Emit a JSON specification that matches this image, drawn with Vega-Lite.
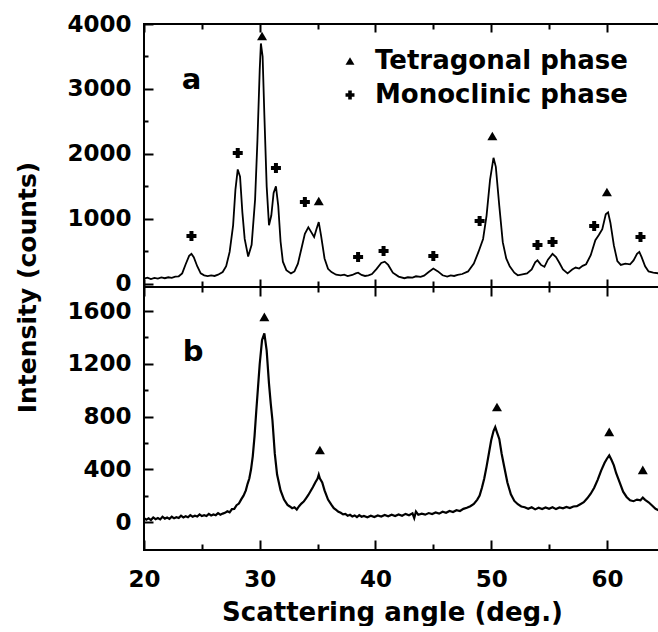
{
  "$schema": "https://vega.github.io/schema/vega-lite/v6.json",
  "background": "white",
  "padding": {"left": 13, "top": 12, "right": 0, "bottom": 0},
  "bounds": "flush",
  "spacing": 0,
  "config": {
    "view": {"stroke": "black", "strokeWidth": 2},
    "axis": {
      "labelFont": "DejaVu Sans", "labelFontWeight": "bold", "labelFontSize": 23, "labelColor": "black",
      "titleFont": "DejaVu Sans", "titleFontWeight": "bold", "titleFontSize": 25, "titleColor": "black",
      "domain": false, "grid": false, "tickColor": "black", "tickWidth": 2, "labelFlush": false, "format": "d"
    },
    "concat": {"spacing": 0}
  },
  "datasets": {
    "a": [
      {"angle": 20.0, "counts": 80}, {"angle": 20.3, "counts": 95}, {"angle": 20.6, "counts": 72}, {"angle": 20.9, "counts": 90},
      {"angle": 21.2, "counts": 78}, {"angle": 21.5, "counts": 98}, {"angle": 21.8, "counts": 85}, {"angle": 22.1, "counts": 100},
      {"angle": 22.4, "counts": 92}, {"angle": 22.7, "counts": 110}, {"angle": 23.0, "counts": 115}, {"angle": 23.3, "counts": 160},
      {"angle": 23.6, "counts": 300}, {"angle": 23.9, "counts": 430}, {"angle": 24.1, "counts": 460}, {"angle": 24.3, "counts": 410},
      {"angle": 24.6, "counts": 270}, {"angle": 24.9, "counts": 160}, {"angle": 25.2, "counts": 130}, {"angle": 25.5, "counts": 118},
      {"angle": 25.8, "counts": 128}, {"angle": 26.1, "counts": 120}, {"angle": 26.4, "counts": 140}, {"angle": 26.8, "counts": 180},
      {"angle": 27.1, "counts": 270}, {"angle": 27.4, "counts": 490}, {"angle": 27.7, "counts": 900}, {"angle": 27.9, "counts": 1450},
      {"angle": 28.1, "counts": 1760}, {"angle": 28.3, "counts": 1650}, {"angle": 28.5, "counts": 1100}, {"angle": 28.7, "counts": 690},
      {"angle": 29.0, "counts": 420}, {"angle": 29.3, "counts": 600}, {"angle": 29.6, "counts": 1300}, {"angle": 29.8, "counts": 2200},
      {"angle": 30.0, "counts": 3300}, {"angle": 30.1, "counts": 3700}, {"angle": 30.25, "counts": 3500}, {"angle": 30.4, "counts": 2600},
      {"angle": 30.6, "counts": 1500}, {"angle": 30.8, "counts": 900}, {"angle": 31.0, "counts": 1050}, {"angle": 31.2, "counts": 1400},
      {"angle": 31.4, "counts": 1500}, {"angle": 31.6, "counts": 1200}, {"angle": 31.8, "counts": 650}, {"angle": 32.0, "counts": 340},
      {"angle": 32.3, "counts": 210}, {"angle": 32.7, "counts": 160}, {"angle": 33.0, "counts": 190}, {"angle": 33.3, "counts": 310},
      {"angle": 33.6, "counts": 540}, {"angle": 33.9, "counts": 770}, {"angle": 34.2, "counts": 870}, {"angle": 34.4, "counts": 810},
      {"angle": 34.7, "counts": 720}, {"angle": 34.9, "counts": 840}, {"angle": 35.1, "counts": 950}, {"angle": 35.3, "counts": 740},
      {"angle": 35.6, "counts": 390}, {"angle": 35.9, "counts": 230}, {"angle": 36.2, "counts": 180}, {"angle": 36.6, "counts": 140},
      {"angle": 37.0, "counts": 128}, {"angle": 37.3, "counts": 140}, {"angle": 37.6, "counts": 118}, {"angle": 38.0, "counts": 135},
      {"angle": 38.3, "counts": 160}, {"angle": 38.5, "counts": 170}, {"angle": 38.8, "counts": 135}, {"angle": 39.1, "counts": 120},
      {"angle": 39.4, "counts": 128}, {"angle": 39.7, "counts": 150}, {"angle": 40.1, "counts": 230}, {"angle": 40.5, "counts": 320},
      {"angle": 40.8, "counts": 340}, {"angle": 41.1, "counts": 290}, {"angle": 41.5, "counts": 170}, {"angle": 42.0, "counts": 110},
      {"angle": 42.5, "counts": 85}, {"angle": 42.8, "counts": 100}, {"angle": 43.2, "counts": 95}, {"angle": 43.5, "counts": 115},
      {"angle": 43.9, "counts": 105}, {"angle": 44.2, "counts": 125}, {"angle": 44.6, "counts": 180}, {"angle": 45.0, "counts": 235},
      {"angle": 45.4, "counts": 190}, {"angle": 45.8, "counts": 130}, {"angle": 46.2, "counts": 110}, {"angle": 46.5, "counts": 128},
      {"angle": 46.8, "counts": 120}, {"angle": 47.1, "counts": 135}, {"angle": 47.5, "counts": 150}, {"angle": 48.0, "counts": 190},
      {"angle": 48.5, "counts": 310}, {"angle": 48.9, "counts": 490}, {"angle": 49.3, "counts": 690}, {"angle": 49.6, "counts": 1050},
      {"angle": 49.9, "counts": 1600}, {"angle": 50.2, "counts": 1940}, {"angle": 50.4, "counts": 1800}, {"angle": 50.7, "counts": 1200},
      {"angle": 51.0, "counts": 640}, {"angle": 51.3, "counts": 390}, {"angle": 51.6, "counts": 270}, {"angle": 52.0, "counts": 170},
      {"angle": 52.3, "counts": 130}, {"angle": 52.7, "counts": 145}, {"angle": 53.1, "counts": 160}, {"angle": 53.5, "counts": 220},
      {"angle": 53.8, "counts": 330}, {"angle": 54.0, "counts": 360}, {"angle": 54.3, "counts": 290}, {"angle": 54.6, "counts": 260},
      {"angle": 54.9, "counts": 370}, {"angle": 55.3, "counts": 460}, {"angle": 55.6, "counts": 410}, {"angle": 55.9, "counts": 320},
      {"angle": 56.2, "counts": 220}, {"angle": 56.6, "counts": 160}, {"angle": 57.0, "counts": 220}, {"angle": 57.3, "counts": 250},
      {"angle": 57.6, "counts": 235}, {"angle": 57.9, "counts": 275}, {"angle": 58.2, "counts": 300}, {"angle": 58.6, "counts": 440},
      {"angle": 59.0, "counts": 670}, {"angle": 59.3, "counts": 750}, {"angle": 59.6, "counts": 840}, {"angle": 59.9, "counts": 1070},
      {"angle": 60.1, "counts": 1100}, {"angle": 60.3, "counts": 940}, {"angle": 60.6, "counts": 590}, {"angle": 60.9, "counts": 350},
      {"angle": 61.2, "counts": 290}, {"angle": 61.6, "counts": 310}, {"angle": 62.0, "counts": 300}, {"angle": 62.3, "counts": 360},
      {"angle": 62.6, "counts": 460}, {"angle": 62.8, "counts": 490}, {"angle": 63.0, "counts": 410}, {"angle": 63.3, "counts": 270},
      {"angle": 63.6, "counts": 190}, {"angle": 64.0, "counts": 170}, {"angle": 64.5, "counts": 160}
    ],
    "b": [
      {"angle": 20.0, "counts": 30}, {"angle": 20.2, "counts": 18}, {"angle": 20.4, "counts": 28}, {"angle": 20.6, "counts": 15},
      {"angle": 20.8, "counts": 35}, {"angle": 21.0, "counts": 22}, {"angle": 21.2, "counts": 30}, {"angle": 21.4, "counts": 20},
      {"angle": 21.6, "counts": 40}, {"angle": 21.8, "counts": 26}, {"angle": 22.0, "counts": 34}, {"angle": 22.2, "counts": 24},
      {"angle": 22.4, "counts": 40}, {"angle": 22.6, "counts": 28}, {"angle": 22.8, "counts": 36}, {"angle": 23.0, "counts": 30},
      {"angle": 23.2, "counts": 48}, {"angle": 23.4, "counts": 35}, {"angle": 23.6, "counts": 44}, {"angle": 23.8, "counts": 36},
      {"angle": 24.0, "counts": 52}, {"angle": 24.2, "counts": 40}, {"angle": 24.4, "counts": 48}, {"angle": 24.6, "counts": 42},
      {"angle": 24.8, "counts": 58}, {"angle": 25.0, "counts": 45}, {"angle": 25.2, "counts": 52}, {"angle": 25.4, "counts": 46},
      {"angle": 25.6, "counts": 62}, {"angle": 25.8, "counts": 50}, {"angle": 26.0, "counts": 58}, {"angle": 26.2, "counts": 52},
      {"angle": 26.4, "counts": 68}, {"angle": 26.6, "counts": 56}, {"angle": 26.8, "counts": 64}, {"angle": 27.0, "counts": 70},
      {"angle": 27.2, "counts": 82}, {"angle": 27.4, "counts": 74}, {"angle": 27.6, "counts": 98}, {"angle": 27.8, "counts": 100},
      {"angle": 28.0, "counts": 128}, {"angle": 28.2, "counts": 140}, {"angle": 28.4, "counts": 172}, {"angle": 28.6, "counts": 200},
      {"angle": 28.8, "counts": 240}, {"angle": 28.95, "counts": 290}, {"angle": 29.1, "counts": 330}, {"angle": 29.25, "counts": 400},
      {"angle": 29.4, "counts": 500}, {"angle": 29.55, "counts": 650}, {"angle": 29.7, "counts": 840}, {"angle": 29.85, "counts": 1020},
      {"angle": 30.0, "counts": 1200}, {"angle": 30.2, "counts": 1380}, {"angle": 30.4, "counts": 1430}, {"angle": 30.6, "counts": 1300},
      {"angle": 30.8, "counts": 1050}, {"angle": 30.95, "counts": 900}, {"angle": 31.1, "counts": 770}, {"angle": 31.3, "counts": 520},
      {"angle": 31.5, "counts": 360}, {"angle": 31.8, "counts": 240}, {"angle": 32.1, "counts": 170}, {"angle": 32.4, "counts": 130},
      {"angle": 32.6, "counts": 118}, {"angle": 32.8, "counts": 105}, {"angle": 33.0, "counts": 112}, {"angle": 33.2, "counts": 95},
      {"angle": 33.4, "counts": 120}, {"angle": 33.6, "counts": 140}, {"angle": 33.8, "counts": 155}, {"angle": 34.0, "counts": 180},
      {"angle": 34.2, "counts": 205}, {"angle": 34.4, "counts": 235}, {"angle": 34.6, "counts": 265}, {"angle": 34.8, "counts": 300},
      {"angle": 35.0, "counts": 330}, {"angle": 35.1, "counts": 360}, {"angle": 35.2, "counts": 330}, {"angle": 35.4, "counts": 300},
      {"angle": 35.6, "counts": 240}, {"angle": 35.9, "counts": 170}, {"angle": 36.2, "counts": 130}, {"angle": 36.4, "counts": 105},
      {"angle": 36.6, "counts": 92}, {"angle": 36.8, "counts": 78}, {"angle": 37.0, "counts": 70}, {"angle": 37.2, "counts": 58},
      {"angle": 37.4, "counts": 62}, {"angle": 37.6, "counts": 48}, {"angle": 37.8, "counts": 55}, {"angle": 38.0, "counts": 42},
      {"angle": 38.2, "counts": 50}, {"angle": 38.4, "counts": 38}, {"angle": 38.6, "counts": 52}, {"angle": 38.8, "counts": 40},
      {"angle": 39.0, "counts": 46}, {"angle": 39.3, "counts": 36}, {"angle": 39.6, "counts": 48}, {"angle": 39.9, "counts": 38},
      {"angle": 40.2, "counts": 50}, {"angle": 40.5, "counts": 42}, {"angle": 40.8, "counts": 54}, {"angle": 41.1, "counts": 44},
      {"angle": 41.4, "counts": 56}, {"angle": 41.7, "counts": 46}, {"angle": 42.0, "counts": 58}, {"angle": 42.3, "counts": 48},
      {"angle": 42.6, "counts": 62}, {"angle": 42.9, "counts": 52}, {"angle": 43.2, "counts": 66}, {"angle": 43.35, "counts": 30},
      {"angle": 43.5, "counts": 80}, {"angle": 43.7, "counts": 55}, {"angle": 44.0, "counts": 64}, {"angle": 44.3, "counts": 56},
      {"angle": 44.6, "counts": 68}, {"angle": 44.9, "counts": 60}, {"angle": 45.2, "counts": 72}, {"angle": 45.5, "counts": 64},
      {"angle": 45.8, "counts": 78}, {"angle": 46.1, "counts": 70}, {"angle": 46.4, "counts": 84}, {"angle": 46.7, "counts": 76},
      {"angle": 47.0, "counts": 90}, {"angle": 47.3, "counts": 84}, {"angle": 47.6, "counts": 100}, {"angle": 47.9, "counts": 108},
      {"angle": 48.2, "counts": 120}, {"angle": 48.5, "counts": 138}, {"angle": 48.8, "counts": 170}, {"angle": 49.0, "counts": 200},
      {"angle": 49.2, "counts": 260}, {"angle": 49.4, "counts": 330}, {"angle": 49.6, "counts": 420}, {"angle": 49.8, "counts": 520},
      {"angle": 50.0, "counts": 620}, {"angle": 50.2, "counts": 690}, {"angle": 50.35, "counts": 720}, {"angle": 50.5, "counts": 680},
      {"angle": 50.7, "counts": 630}, {"angle": 50.9, "counts": 520}, {"angle": 51.1, "counts": 430}, {"angle": 51.4, "counts": 300},
      {"angle": 51.7, "counts": 210}, {"angle": 52.0, "counts": 160}, {"angle": 52.3, "counts": 135}, {"angle": 52.6, "counts": 118},
      {"angle": 52.9, "counts": 112}, {"angle": 53.2, "counts": 100}, {"angle": 53.5, "counts": 112}, {"angle": 53.8, "counts": 96},
      {"angle": 54.1, "counts": 108}, {"angle": 54.4, "counts": 98}, {"angle": 54.7, "counts": 110}, {"angle": 55.0, "counts": 100},
      {"angle": 55.3, "counts": 112}, {"angle": 55.6, "counts": 98}, {"angle": 55.9, "counts": 110}, {"angle": 56.2, "counts": 104},
      {"angle": 56.5, "counts": 115}, {"angle": 56.8, "counts": 106}, {"angle": 57.1, "counts": 118}, {"angle": 57.4, "counts": 120},
      {"angle": 57.7, "counts": 135}, {"angle": 58.0, "counts": 150}, {"angle": 58.3, "counts": 180}, {"angle": 58.6, "counts": 215},
      {"angle": 58.9, "counts": 260}, {"angle": 59.2, "counts": 320}, {"angle": 59.5, "counts": 390}, {"angle": 59.8, "counts": 450},
      {"angle": 60.0, "counts": 480}, {"angle": 60.2, "counts": 505}, {"angle": 60.4, "counts": 470}, {"angle": 60.6, "counts": 430},
      {"angle": 60.8, "counts": 370}, {"angle": 61.1, "counts": 300}, {"angle": 61.4, "counts": 230}, {"angle": 61.7, "counts": 190},
      {"angle": 62.0, "counts": 165}, {"angle": 62.3, "counts": 158}, {"angle": 62.6, "counts": 170}, {"angle": 62.9, "counts": 165},
      {"angle": 63.1, "counts": 185}, {"angle": 63.3, "counts": 168}, {"angle": 63.6, "counts": 150}, {"angle": 63.9, "counts": 125},
      {"angle": 64.2, "counts": 100}, {"angle": 64.5, "counts": 88}
    ],
    "marks_a": [
      {"angle": 30.2, "counts": 3815, "phase": "Tetragonal phase"},
      {"angle": 35.1, "counts": 1274, "phase": "Tetragonal phase"},
      {"angle": 50.1, "counts": 2275, "phase": "Tetragonal phase"},
      {"angle": 60.0, "counts": 1413, "phase": "Tetragonal phase"},
      {"angle": 24.1, "counts": 735, "phase": "Monoclinic phase"},
      {"angle": 28.1, "counts": 2013, "phase": "Monoclinic phase"},
      {"angle": 31.4, "counts": 1782, "phase": "Monoclinic phase"},
      {"angle": 33.9, "counts": 1259, "phase": "Monoclinic phase"},
      {"angle": 38.5, "counts": 412, "phase": "Monoclinic phase"},
      {"angle": 40.7, "counts": 504, "phase": "Monoclinic phase"},
      {"angle": 45.0, "counts": 427, "phase": "Monoclinic phase"},
      {"angle": 49.0, "counts": 966, "phase": "Monoclinic phase"},
      {"angle": 54.0, "counts": 597, "phase": "Monoclinic phase"},
      {"angle": 55.3, "counts": 643, "phase": "Monoclinic phase"},
      {"angle": 58.9, "counts": 889, "phase": "Monoclinic phase"},
      {"angle": 62.9, "counts": 720, "phase": "Monoclinic phase"}
    ],
    "marks_b": [
      {"angle": 30.4, "counts": 1555},
      {"angle": 35.2, "counts": 546},
      {"angle": 50.5, "counts": 872},
      {"angle": 60.2, "counts": 683},
      {"angle": 63.1, "counts": 395}
    ],
    "label_a": [{"angle": 24.1, "counts": 3000, "name": "a"}],
    "label_b": [{"angle": 24.25, "counts": 1221, "name": "b"}]
  },
  "resolve": {"scale": {"shape": "independent"}, "legend": {"shape": "independent"}},
  "vconcat": [
    {
      "width": 515,
      "height": 263,
      "resolve": {"axis": {"x": "independent", "y": "independent"}},
      "layer": [
        {
          "data": {"name": "a"},
          "mark": {"type": "line", "color": "black", "strokeWidth": 1.8},
          "encoding": {
            "x": {
              "field": "angle", "type": "quantitative",
              "scale": {"domain": [20, 64.5], "nice": false, "zero": false},
              "axis": {"orient": "bottom", "title": null, "labels": false, "offset": -8, "values": [20, 30, 40, 50, 60], "tickSize": 17}
            },
            "y": {
              "field": "counts", "type": "quantitative",
              "scale": {"domain": [-50, 4000], "nice": false, "zero": false},
              "axis": {
                "orient": "left",
                "values": [0, 1000, 2000, 3000, 4000],
                "tickSize": -9,
                "labelPadding": 22,
                "title": "Intensity (counts)",
                "titleX": -117, "titleY": 263, "titleBaseline": "middle", "titleAngle": -90, "titleAlign": "center"
              }
            }
          }
        },
        {
          "data": {"name": "marks_a"},
          "transform": [{"filter": "datum.phase === 'Tetragonal phase'"}],
          "mark": {"type": "point", "filled": true, "color": "black", "opacity": 1, "size": 100},
          "encoding": {
            "x": {
              "field": "angle", "type": "quantitative",
              "axis": {"orient": "bottom", "title": null, "labels": false, "offset": -6, "values": [25, 35, 45, 55], "tickSize": 11}
            },
            "y": {
              "field": "counts", "type": "quantitative",
              "axis": {"orient": "left", "title": null, "labels": false, "values": [500, 1500, 2500, 3500], "tickSize": -4}
            },
            "shape": {
              "field": "phase", "type": "nominal",
              "scale": {"domain": ["Tetragonal phase", "Monoclinic phase"], "range": ["triangle-up", "cross"]},
              "legend": {
                "orient": "none", "legendX": 193, "legendY": 24, "title": null, "padding": 0,
                "labelFont": "DejaVu Sans", "labelFontWeight": "bold", "labelFontSize": 26, "labelColor": "black", "labelLimit": 500,
                "symbolSize": 80, "symbolFillColor": "black", "symbolStrokeColor": "black", "symbolStrokeWidth": 0,
                "labelOffset": 12, "rowPadding": 8
              }
            }
          }
        },
        {
          "data": {"name": "marks_a"},
          "transform": [{"filter": "datum.phase === 'Monoclinic phase'"}],
          "mark": {"type": "point", "filled": true, "color": "black", "opacity": 1, "size": 100},
          "encoding": {
            "x": {
              "field": "angle", "type": "quantitative",
              "axis": {"orient": "top", "title": null, "labels": false, "values": [20, 30, 40, 50, 60], "tickSize": -8}
            },
            "y": {"field": "counts", "type": "quantitative", "axis": null},
            "shape": {"field": "phase", "type": "nominal"}
          }
        },
        {
          "data": {"name": "label_a"},
          "mark": {"type": "text", "font": "DejaVu Sans", "fontWeight": "bold", "fontSize": 29, "align": "center", "baseline": "alphabetic", "color": "black"},
          "encoding": {
            "x": {
              "field": "angle", "type": "quantitative",
              "axis": {"orient": "top", "title": null, "labels": false, "values": [25, 35, 45, 55], "tickSize": -5}
            },
            "y": {"field": "counts", "type": "quantitative", "axis": null},
            "text": {"field": "name"}
          }
        }
      ]
    },
    {
      "width": 515,
      "height": 263,
      "resolve": {"axis": {"x": "independent", "y": "independent"}},
      "layer": [
        {
          "data": {"name": "b"},
          "mark": {"type": "line", "color": "black", "strokeWidth": 2.2},
          "encoding": {
            "x": {
              "field": "angle", "type": "quantitative",
              "scale": {"domain": [20, 64.5], "nice": false, "zero": false},
              "axis": {
                "orient": "bottom",
                "values": [20, 30, 40, 50, 60],
                "tickSize": -10,
                "labelPadding": 28,
                "title": "Scattering angle (deg.)",
                "titleFontSize": 26,
                "titleX": 248, "titleY": 62, "titleBaseline": "middle"
              }
            },
            "y": {
              "field": "counts", "type": "quantitative",
              "scale": {"domain": [-212, 1782], "nice": false, "zero": false},
              "axis": {
                "orient": "left",
                "values": [0, 400, 800, 1200, 1600],
                "tickSize": -9,
                "labelPadding": 22,
                "title": null
              }
            }
          }
        },
        {
          "data": {"name": "marks_b"},
          "mark": {"type": "point", "filled": true, "color": "black", "opacity": 1, "size": 100, "shape": "triangle-up"},
          "encoding": {
            "x": {
              "field": "angle", "type": "quantitative",
              "axis": {"orient": "bottom", "title": null, "labels": false, "values": [25, 35, 45, 55], "tickSize": -6}
            },
            "y": {
              "field": "counts", "type": "quantitative",
              "axis": {"orient": "left", "title": null, "labels": false, "values": [200, 600, 1000, 1400], "tickSize": -4}
            }
          }
        },
        {
          "data": {"name": "label_b"},
          "mark": {"type": "text", "font": "DejaVu Sans", "fontWeight": "bold", "fontSize": 29, "align": "center", "baseline": "alphabetic", "color": "black"},
          "encoding": {
            "x": {"field": "angle", "type": "quantitative", "axis": null},
            "y": {"field": "counts", "type": "quantitative", "axis": null},
            "text": {"field": "name"}
          }
        }
      ]
    }
  ]
}
